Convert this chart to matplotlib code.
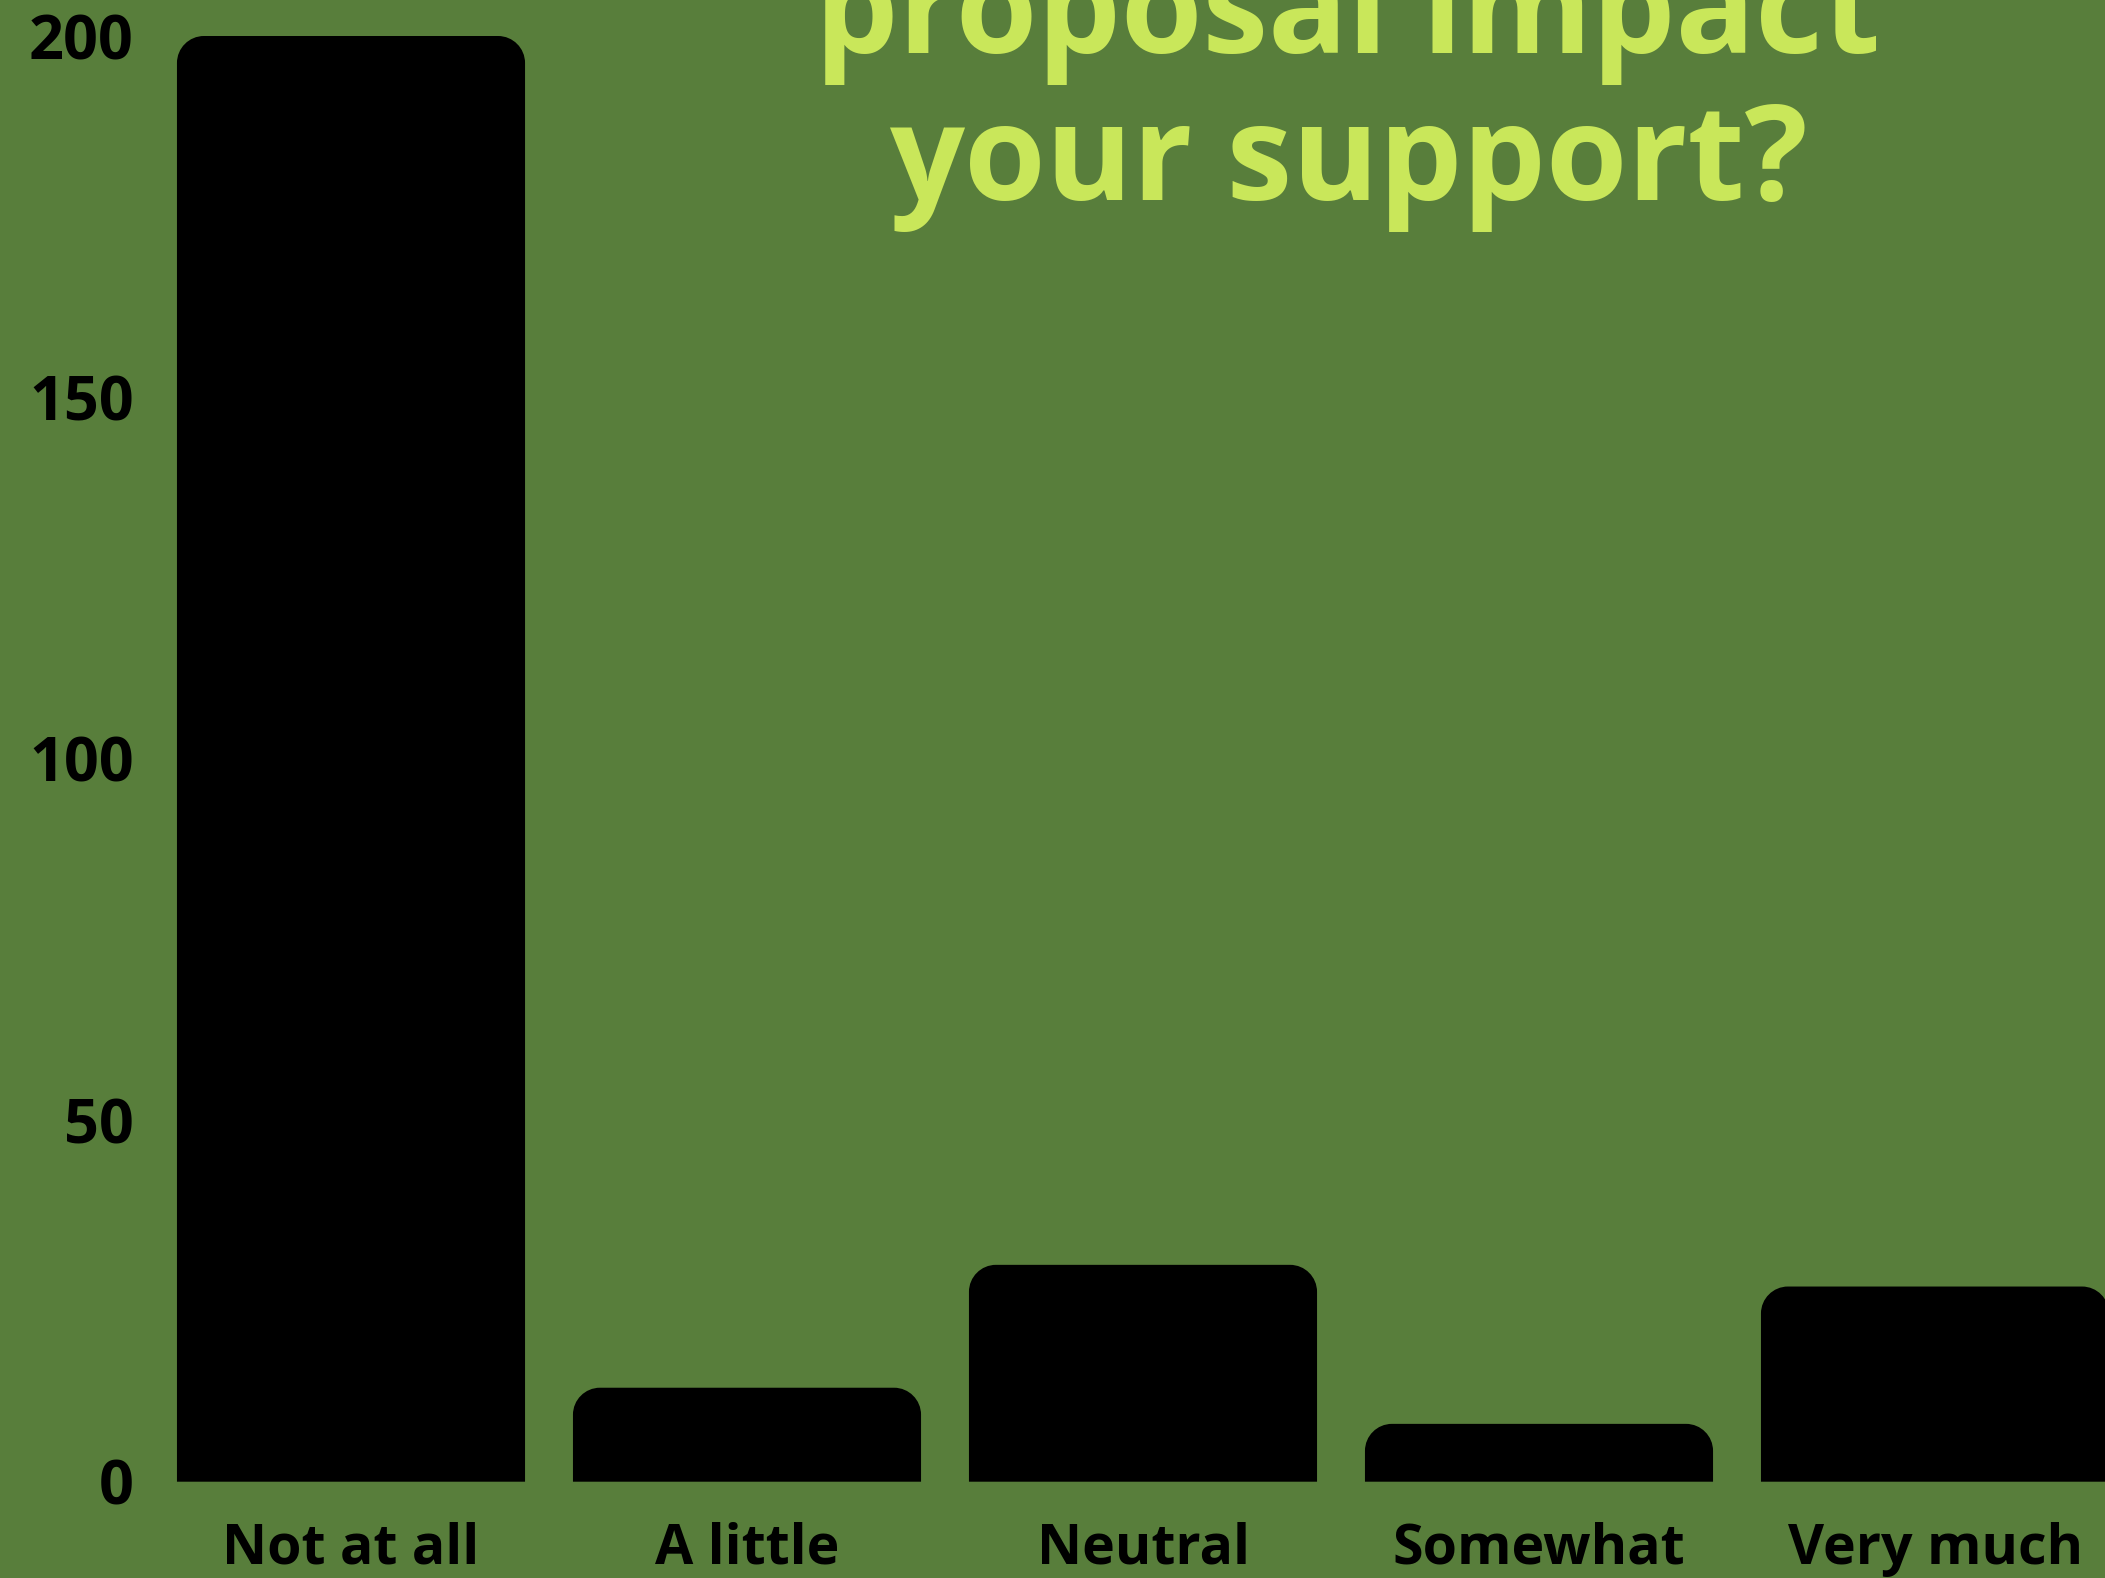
import matplotlib
matplotlib.use("Agg")
import matplotlib.pyplot as plt
from matplotlib.path import Path
from matplotlib.patches import PathPatch

# ---- data ----
categories = ["Not at all", "A little", "Neutral", "Somewhat", "Very much"]
values = [200, 13, 30, 8, 27]
yticks = [0, 50, 100, 150, 200]
title_lines = ["proposal impact", "your support?"]

BG = "#587e3b"
TITLE_C = "#c9e75a"
W_PX, H_PX, DPI = 2105, 1578, 100

fig = plt.figure(figsize=(W_PX / DPI, H_PX / DPI), dpi=DPI, facecolor=BG)
# axes placement (pixels -> fractions)
ax_left, ax_right = 153, 2133
ax_top, ax_bottom = 36, 1481.7
ax = fig.add_axes([ax_left / W_PX, (H_PX - ax_bottom) / H_PX,
                   (ax_right - ax_left) / W_PX, (ax_bottom - ax_top) / H_PX])
ax.set_facecolor(BG)
ax.patch.set_alpha(0)

x = list(range(len(categories)))
bars = ax.bar(x, values, width=0.879, color="none", edgecolor="none")
ax.set_xlim(-0.5, len(categories) - 0.5)
ax.set_ylim(0, 200)

# rounded-top bars
r_px = 27
inv = ax.transData.inverted()
p0 = inv.transform((0, 0))
p1 = inv.transform((r_px, r_px))
rx, ry = p1[0] - p0[0], p1[1] - p0[1]
k = 0.5523
for b in bars:
    x0 = b.get_x(); x1 = x0 + b.get_width()
    y0 = b.get_y(); y1 = y0 + b.get_height()
    rr = min(ry, (y1 - y0))
    verts = [(x0, y0), (x0, y1 - rr),
             (x0, y1 - rr + k * rr), (x0 + rx - k * rx, y1), (x0 + rx, y1),
             (x1 - rx, y1),
             (x1 - rx + k * rx, y1), (x1, y1 - rr + k * rr), (x1, y1 - rr),
             (x1, y0), (x0, y0)]
    codes = [Path.MOVETO, Path.LINETO,
             Path.CURVE4, Path.CURVE4, Path.CURVE4,
             Path.LINETO,
             Path.CURVE4, Path.CURVE4, Path.CURVE4,
             Path.LINETO, Path.CLOSEPOLY]
    ax.add_patch(PathPatch(Path(verts, codes), facecolor="black", edgecolor="none"))

for s in ax.spines.values():
    s.set_visible(False)
ax.set_yticks(yticks)
ax.set_yticklabels([str(v) for v in yticks], fontfamily="Open Sans", fontweight="bold",
                   fontsize=44, color="black")
ax.set_xticks(x)
ax.set_xticklabels(categories, fontfamily="Open Sans", fontweight="bold",
                   fontsize=40, color="black")
ax.tick_params(axis="y", length=0, pad=14)
ax.tick_params(axis="x", length=0, pad=29)

# title (top line partly off canvas, as in the original)
tx = 1348 / W_PX
fig.text(tx, 1 - 53 / H_PX, title_lines[0], ha="center", va="baseline",
         fontfamily="Open Sans", fontweight="bold", fontsize=95, color=TITLE_C)
fig.text(tx, 1 - 200 / H_PX, title_lines[1], ha="center", va="baseline",
         fontfamily="Open Sans", fontweight="bold", fontsize=95, color=TITLE_C)

fig.savefig("out.png", dpi=DPI, facecolor=BG)
